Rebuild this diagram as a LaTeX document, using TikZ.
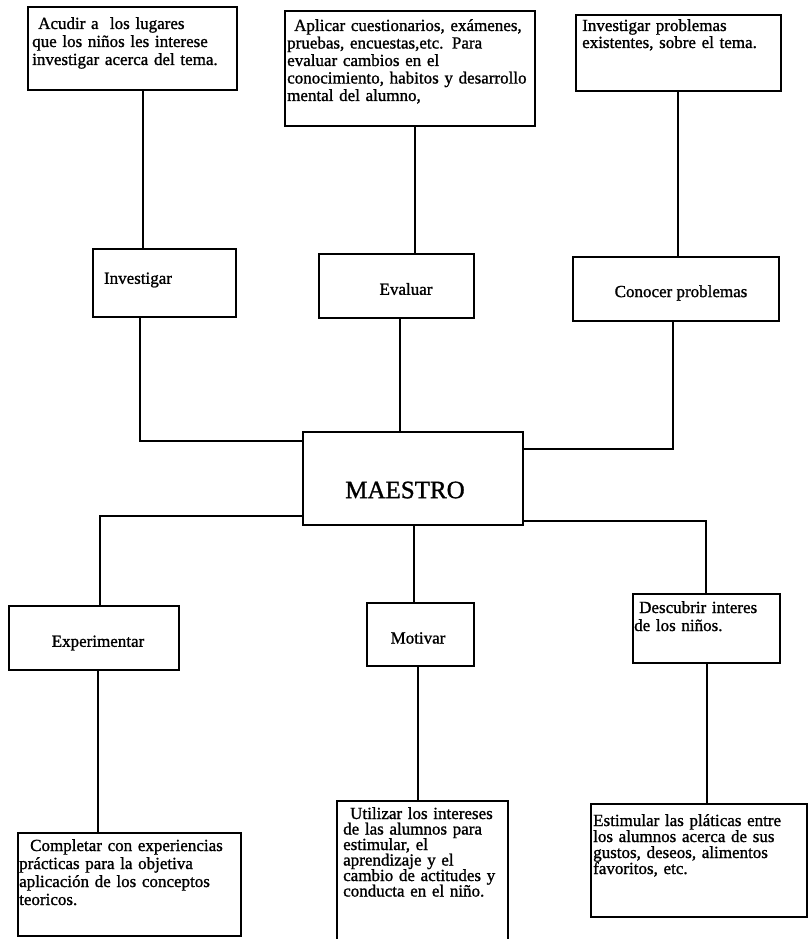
\documentclass[tikz,border=0pt]{standalone}
\usepackage{fontspec}
\setmainfont[FakeBold=1.2]{Liberation Serif}
\usetikzlibrary{calc}
\begin{document}
\begin{tikzpicture}[x=1pt,y=-1pt,
  bx/.style={draw, line width=2.2pt, inner sep=0pt, anchor=north west},
  cn/.style={line width=1.8pt},
  tx/.style={anchor=base west, inner sep=0pt, text width=260pt, align=left, font={\fontsize{17}{17.5}\selectfont}},
  lb/.style={inner sep=0pt, font={\fontsize{17}{20}\selectfont}}]
\useasboundingbox (0,0) rectangle (809,939);
% top row
\node[bx, minimum width=209pt, minimum height=83pt] (a1) at (27,6) {};
\node[tx, font={\fontsize{17}{18}\selectfont}] (a1t) at (32,29) {\hspace*{6pt}Acudir a\ \ los lugares\\que los niños les interese\\investigar acerca del tema.};
\node[bx, minimum width=250pt, minimum height=115pt] (a2) at (284,10) {};
\node[tx] (a2t) at (287,31) {\hspace*{7pt}Aplicar cuestionarios, exámenes,\\pruebas, encuestas,etc. Para\\evaluar cambios en el\\conocimiento, habitos y desarrollo\\mental del alumno,};
\node[bx, minimum width=205pt, minimum height=76pt] (a3) at (575,14) {};
\node[tx, font={\fontsize{17}{17}\selectfont}] (a3t) at (582,31) {Investigar problemas\\existentes, sobre el tema.};
% middle row
\node[bx, minimum width=143pt, minimum height=68pt] (b1) at (92,248) {};
\node[lb] (b1t) at (138,280) {Investigar};
\node[bx, minimum width=155pt, minimum height=64pt] (b2) at (318,253) {};
\node[lb] (b2t) at (406,289) {Evaluar};
\node[bx, minimum width=206pt, minimum height=64pt] (b3) at (572,256) {};
\node[lb] (b3t) at (681,293) {Conocer problemas};
% centre
\node[bx, minimum width=220pt, minimum height=93pt] (m) at (302,431) {};
\node[inner sep=0pt, font={\fontsize{25}{28}\selectfont}] (mt) at (405,490) {MAESTRO};
% lower row
\node[bx, minimum width=170pt, minimum height=64pt] (c1) at (8,605) {};
\node[lb] (c1t) at (98,643) {Experimentar};
\node[bx, minimum width=107pt, minimum height=63pt] (c2) at (366,602) {};
\node[lb] (c2t) at (418,638) {Motivar};
\node[bx, minimum width=147pt, minimum height=69pt] (c3) at (632,593) {};
\node[tx, font={\fontsize{17}{18}\selectfont}] (c3t) at (634,613) {\hspace*{5pt}Descubrir interes\\de los niños.};
% bottom row
\node[bx, minimum width=223pt, minimum height=103pt] (d1) at (17,832) {};
\node[tx, font={\fontsize{17}{18}\selectfont}] (d1t) at (19,851) {\hspace*{11pt}Completar con experiencias\\prácticas para la objetiva\\aplicación de los conceptos\\teoricos.};
\node[bx, minimum width=171pt, minimum height=145pt] (d2) at (336,800) {};
\node[tx, font={\fontsize{17}{15.5}\selectfont}] (d2t) at (343,819) {\hspace*{7pt}Utilizar los intereses\\de las alumnos para\\estimular, el\\aprendizaje y el\\cambio de actitudes y\\conducta en el niño.};
\node[bx, minimum width=216pt, minimum height=113pt] (d3) at (590,803) {};
\node[tx, font={\fontsize{17}{16}\selectfont}] (d3t) at (593,826) {Estimular las pláticas entre\\los alumnos acerca de sus\\gustos, deseos, alimentos\\favoritos, etc.};
% connectors
\draw[cn] (a1.south -| 143,0) -- (b1.north -| 143,0);
\draw[cn] (a2.south -| 415,0) -- (b2.north -| 415,0);
\draw[cn] (a3.south -| 678,0) -- (b3.north -| 678,0);
\draw[cn] (b1.south -| 140,0) |- (m.west |- 0,441);
\draw[cn] (b2.south -| 400,0) -- (m.north -| 400,0);
\draw[cn] (b3.south -| 673,0) |- (m.east |- 0,449);
\draw[cn] (m.west |- 0,516) -| (c1.north -| 100,0);
\draw[cn] (m.south -| 414,0) -- (c2.north -| 414,0);
\draw[cn] (m.east |- 0,521) -| (c3.north -| 706,0);
\draw[cn] (c1.south -| 98,0) -- (d1.north -| 98,0);
\draw[cn] (c2.south -| 418,0) -- (d2.north -| 418,0);
\draw[cn] (c3.south -| 707,0) -- (d3.north -| 707,0);
\end{tikzpicture}
\end{document}
